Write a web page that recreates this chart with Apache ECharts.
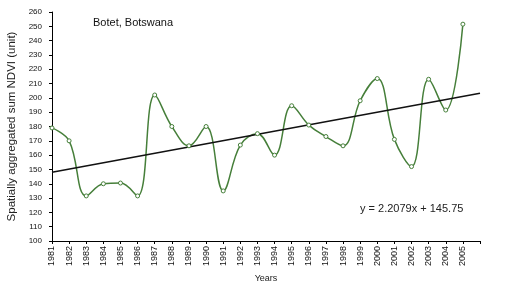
<!DOCTYPE html>
<html>
<head>
<meta charset="utf-8">
<script src="https://cdn.jsdelivr.net/npm/echarts@6/dist/echarts.min.js"></script>
<style>html,body{margin:0;padding:0;background:#fff}#c{width:510px;height:283px}</style>
</head>
<body>
<div id="c"></div>
<script>
var years = ['1981','1982','1983','1984','1985','1986','1987','1988','1989','1990','1991','1992','1993','1994','1995','1996','1997','1998','1999','2000','2001','2002','2003','2004','2005'];
var ndvi = [179, 170, 131.5, 140, 140.5, 131.5, 202, 180, 166.5, 180, 135, 167, 175, 160, 194.5, 181, 173, 166.5, 198, 213.5, 171, 152, 213, 191.5, 251.5];
var trendSlope = 2.2079;
var trendIntercept = 145.75;
var forecastPeriods = 1;
var yTicks = {min: 100, max: 260, step: 10};

var cats = years.concat(['']);
var lastX = years.length + forecastPeriods;
var trend = [[0, trendSlope * 1 + trendIntercept], [lastX - 1, trendSlope * lastX + trendIntercept]];
var font = 'Liberation Sans, Arial, sans-serif';

var chart = echarts.init(document.getElementById('c'));
chart.setOption({
  animation: false,
  backgroundColor: '#fff',
  grid: {left: 52, right: 30, top: 12, bottom: 42, containLabel: false, outerBoundsMode: 'none'},
  title: {
    text: 'Botet, Botswana', left: 93, top: 17, padding: 0,
    textStyle: {fontFamily: font, fontSize: 11, fontWeight: 'normal', color: '#111'}
  },
  graphic: [{
    type: 'text', left: 360, top: 203,
    style: {text: 'y = 2.2079x + 145.75', fontFamily: font, fontSize: 11, fill: '#222'}
  }],
  xAxis: {
    type: 'category', data: cats, boundaryGap: false,
    name: 'Years', nameLocation: 'middle', nameGap: 33,
    nameTextStyle: {fontFamily: font, fontSize: 9, color: '#222'},
    axisLine: {lineStyle: {color: '#000', width: 1}},
    axisTick: {show: true, interval: 0, length: 3, lineStyle: {color: '#000'}},
    axisLabel: {interval: 0, rotate: 90, fontFamily: font, fontSize: 9, color: '#111', margin: 5}
  },
  yAxis: {
    type: 'value', min: yTicks.min, max: yTicks.max, interval: yTicks.step,
    name: 'Spatially aggregated sum NDVI (unit)', nameLocation: 'middle', nameGap: 33,
    nameTextStyle: {fontFamily: font, fontSize: 11.5, color: '#222'},
    axisLine: {show: true, lineStyle: {color: '#000', width: 1}},
    axisTick: {show: true, length: 3, lineStyle: {color: '#000'}},
    splitLine: {show: false},
    axisLabel: {fontFamily: font, fontSize: 8, color: '#111', margin: 10}
  },
  series: [{
    type: 'line', data: ndvi, smooth: 0.4, smoothConstraint: false,
    symbol: 'circle', symbolSize: 4, showSymbol: true,
    lineStyle: {color: '#467f3a', width: 1.5},
    itemStyle: {color: '#fff', borderColor: '#467f3a', borderWidth: 1}
  }, {
    type: 'line', data: trend, symbol: 'none',
    lineStyle: {color: '#111', width: 1.5}
  }]
});
</script>
</body>
</html>
